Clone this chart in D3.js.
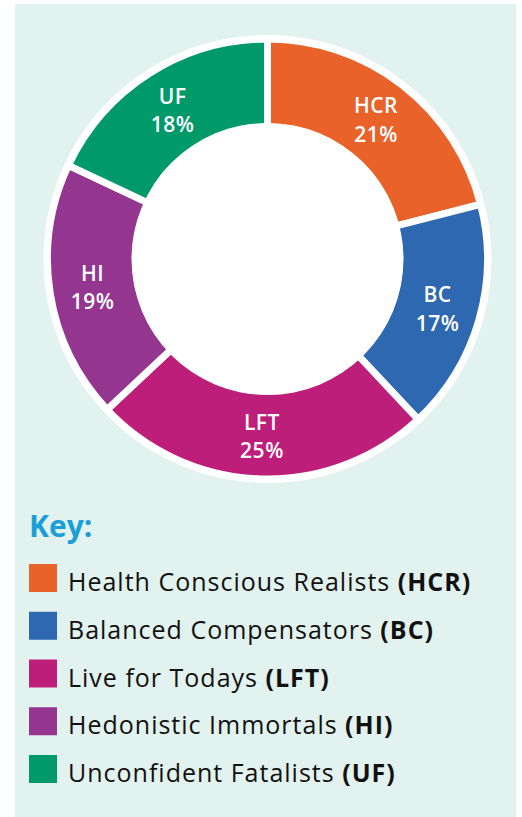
<!DOCTYPE html>
<html><head><meta charset="utf-8">
<script src="https://cdn.jsdelivr.net/npm/d3@7"></script>
<style>html,body{margin:0;padding:0;background:#fff;}svg{display:block;}</style>
</head><body>
<script>
const codes = ["HCR","BC","LFT","HI","UF"];
const names = ["Health Conscious Realists","Balanced Compensators","Live for Todays","Hedonistic Immortals","Unconfident Fatalists"];
const values = [21,17,25,19,18];
const colors = ["#e8622a","#2e68b1","#bd1e7a","#94368f","#00996a"];

const W = 522, H = 817;
const svg = d3.select("body").append("svg").attr("width", W).attr("height", H);
svg.append("rect").attr("x",15).attr("y",4).attr("width",501).attr("height",813).attr("fill","#e2f2ee");

const cx = 267.5, cy = 259;
const g = svg.append("g").attr("transform",`translate(${cx},${cy})`);
const data = codes.map((c,i)=>({code:c, value:values[i], color:colors[i]}));
const pie = d3.pie().value(d=>d.value).sort(null);
const arcs = pie(data);
const arc = d3.arc().innerRadius(132).outerRadius(220);
g.append("circle").attr("r",224).attr("fill","#fff");
g.selectAll("path").data(arcs).join("path")
  .attr("d",arc).attr("fill",d=>d.data.color)
  .attr("stroke","#fff").attr("stroke-width",7).attr("stroke-linejoin","miter");
g.append("circle").attr("r",136).attr("fill","#fff");
const lab = d3.arc().innerRadius(177).outerRadius(177);
const lg = g.selectAll("g.lab").data(arcs).join("g").attr("class","lab")
  .attr("transform",d=>{const c=lab.centroid(d);return `translate(${c[0]},${c[1]})`;});
lg.append("text").attr("text-anchor","middle").attr("y",-6)
  .attr("font-family","Open Sans").attr("font-weight",600).attr("font-size",21).attr("letter-spacing",0.5).attr("fill","#fff")
  .text(d=>d.data.code);
lg.append("text").attr("text-anchor","middle").attr("y",22.5)
  .attr("font-family","Open Sans").attr("font-weight",600).attr("font-size",21).attr("letter-spacing",0.5).attr("fill","#fff")
  .text(d=>d.data.value+"%");

svg.append("text").attr("x",29).attr("y",537).attr("font-family","Open Sans").attr("font-weight",700)
  .attr("font-size",30).attr("fill","#1a9ed8").text("Key:");
const ly = d3.scaleBand().domain(codes).range([564, 564+47.75*5]).paddingInner(0);
const items = svg.selectAll("g.item").data(data).join("g").attr("class","item")
  .attr("transform",d=>`translate(29,${ly(d.code)})`);
items.append("rect").attr("width",28).attr("height",28).attr("fill",d=>d.color);
const t = items.append("text").attr("x",39).attr("y",27).attr("font-family","Open Sans")
  .attr("font-size",25).attr("letter-spacing",1).attr("fill","#111");
t.append("tspan").text((d,i)=>names[i]+" ");
t.append("tspan").attr("font-weight",700).text(d=>"("+d.code+")");
</script>
</body></html>
